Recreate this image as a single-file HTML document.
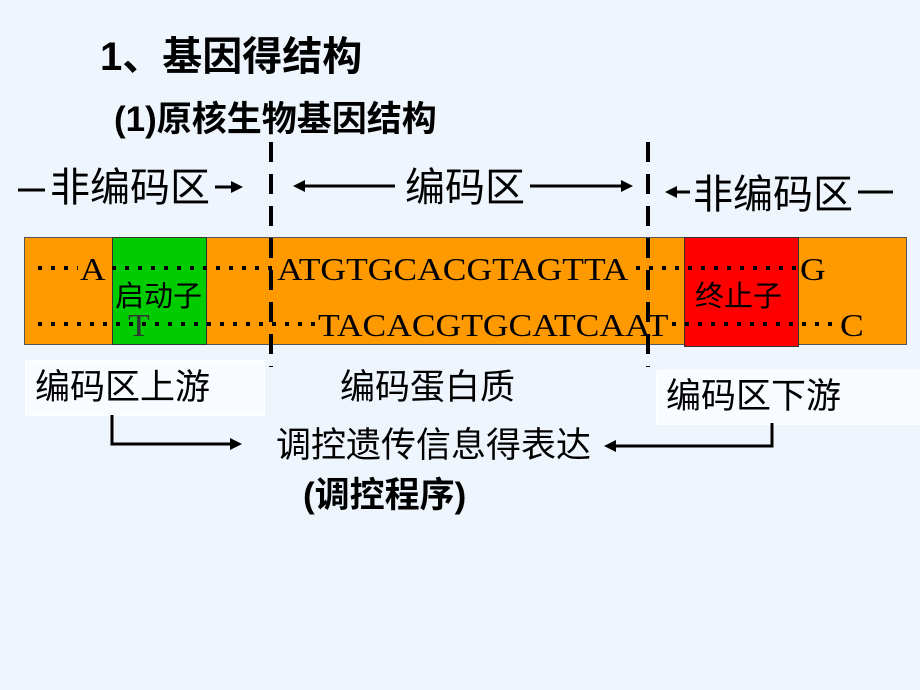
<!DOCTYPE html>
<html><head><meta charset="utf-8"><style>
body{margin:0;width:920px;height:690px;background:#eef5fd;position:relative;overflow:hidden;font-family:"Liberation Sans","Noto Sans CJK SC",sans-serif;}
.t{position:absolute;white-space:nowrap;color:#000;line-height:1}
.s{font-family:"Liberation Serif","Noto Serif CJK SC",serif;transform:scaleX(1.11);transform-origin:0 0}
.dl{position:absolute;width:4px;background:repeating-linear-gradient(to bottom,#000 0 20px,transparent 20px 32px)}
.dot{position:absolute;height:4px;background:repeating-linear-gradient(to right,#000 0 4px,transparent 4px 13px)}
</style></head><body>
<div class="t" style="left:100px;top:37px;font-size:40px;font-weight:bold">1、基因得结构</div>
<div class="t" style="left:114px;top:102px;font-size:35px;font-weight:bold">(1)原核生物基因结构</div>

<div class="t" style="left:50px;top:168px;font-size:40px">非编码区</div>
<div class="t" style="left:405px;top:168px;font-size:40px">编码区</div>
<div class="t" style="left:693px;top:175px;font-size:40px">非编码区</div>

<div style="position:absolute;left:24px;top:237px;width:881px;height:106px;background:#ff9900;border:1px solid #555"></div>
<div style="position:absolute;left:112px;top:237px;width:93px;height:106px;background:#00cc00;border:1px solid #333"></div>
<div style="position:absolute;left:684px;top:237px;width:113px;height:108px;background:#ff0000;border:1px solid #333"></div>

<div class="dot" style="left:38px;top:266px;width:40px"></div>
<div class="dot" style="left:112px;top:266px;width:165px"></div>
<div class="dot" style="left:636px;top:266px;width:168px"></div>
<div class="dot" style="left:38px;top:322px;width:280px"></div>
<div class="dot" style="left:672px;top:322px;width:165px"></div>

<div class="t s" style="left:80px;top:253px;font-size:32px">A</div>
<div class="t s" style="left:128px;top:309px;font-size:32px;color:#333">T</div>
<div class="t s" style="left:277px;top:253px;font-size:32px">ATGTGCACGTAGTTA</div>
<div class="t s" style="left:318px;top:309px;font-size:32px">TACACGTGCATCAAT</div>
<div class="t s" style="left:800px;top:253px;font-size:32px">G</div>
<div class="t s" style="left:840px;top:309px;font-size:32px">C</div>
<div class="t" style="left:115px;top:283px;font-size:29px">启动子</div>
<div class="t" style="left:695px;top:283px;font-size:29px">终止子</div>

<div class="dl" style="left:269px;top:142px;height:225px"></div>
<div class="dl" style="left:646px;top:142px;height:225px"></div>

<div style="position:absolute;left:25px;top:360px;width:238px;height:54px;background:#f8fbff;border:1px solid #fff"></div>
<div style="position:absolute;left:656px;top:370px;width:264px;height:53px;background:#f8fbff;border:1px solid #fff"></div>
<div class="t" style="left:35px;top:370px;font-size:35px">编码区上游</div>
<div class="t" style="left:340px;top:370px;font-size:35px">编码蛋白质</div>
<div class="t" style="left:666px;top:379px;font-size:35px">编码区下游</div>

<svg style="position:absolute;left:0;top:0" width="920" height="690">
<g stroke="#000" stroke-width="3" fill="none">
<path d="M18 190 H45"/><path d="M215 187 H233"/>
<path d="M303 186 H395"/><path d="M530 186 H623"/>
<path d="M675 192 H690"/><path d="M858 192 H893"/>
<path d="M112 415 V444 H232"/><path d="M772 423 V446 H615"/>
</g>
<g fill="#000">
<polygon points="243,187 231,181 231,193"/>
<polygon points="293,186 305,180 305,192"/>
<polygon points="633,186 621,180 621,192"/>
<polygon points="665,192 677,186 677,198"/>
<polygon points="242,444 230,438 230,450"/>
<polygon points="604,446 616,440 616,452"/>
</g>
</svg>
<div class="t" style="left:276px;top:428px;font-size:35px">调控遗传信息得表达</div>
<div class="t" style="left:303px;top:478px;font-size:35px;font-weight:bold">(调控程序)</div>
</body></html>
